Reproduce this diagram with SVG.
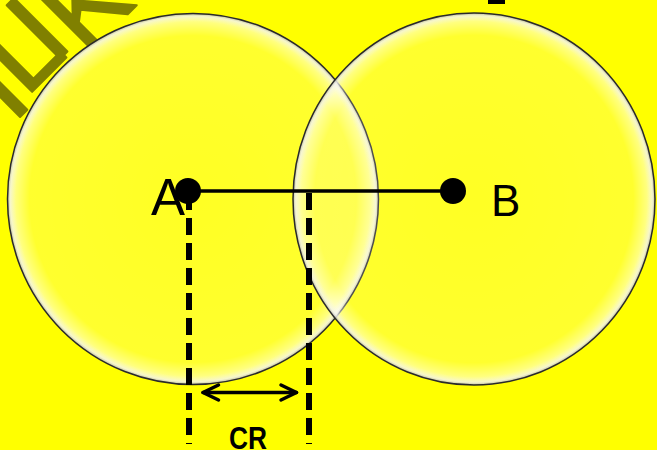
<svg xmlns="http://www.w3.org/2000/svg" width="657" height="450" viewBox="0 0 657 450">
<defs>
<radialGradient id="glow" cx="0.5" cy="0.5" r="0.5">
<stop offset="0" stop-color="#ffffff" stop-opacity="0.14"/>
<stop offset="0.88" stop-color="#ffffff" stop-opacity="0.18"/>
<stop offset="0.955" stop-color="#ffffff" stop-opacity="0.5"/>
<stop offset="0.985" stop-color="#f4f4f0" stop-opacity="0.85"/>
<stop offset="1" stop-color="#b8b8b0" stop-opacity="0.9"/>
</radialGradient>
</defs>
<style>
.wm{font-family:"Liberation Sans",Arial,sans-serif;font-size:110px;fill:#808000;stroke:#808000;stroke-width:2;stroke-linejoin:round;}
.lbl{font-family:"Liberation Sans",Arial,sans-serif;fill:#000;}
.cr{font-family:"Liberation Sans",Arial,sans-serif;font-weight:bold;font-size:31px;fill:#000;}
.ring{fill:url(#glow);stroke:#2a2a2a;stroke-width:1.5;}
.dash{stroke:#000;stroke-width:6;stroke-dasharray:17 8;fill:none;}
.arr{stroke:#000;stroke-width:3.5;fill:none;stroke-linecap:round;stroke-linejoin:round;}
</style>
<rect x="0" y="0" width="657" height="450" fill="#ffff00"/>
<g id="watermark">
<text class="wm" transform="translate(-22.4,159.4) rotate(-45)">H</text>
<text class="wm" transform="translate(25.7,98.3) rotate(-45)">L</text>
<text class="wm" transform="translate(53.1,65.9) rotate(-45)">I</text>
<text class="wm" transform="translate(85.7,56.3) rotate(-45)">K</text>
</g>
<rect x="488" y="0" width="17" height="4" fill="#000"/>
<g id="circleA">
<circle cx="193" cy="199" r="185.5" fill="#ffff00"/>
<circle class="ring" cx="193" cy="199" r="185.5"/>
</g>
<g id="circleB">
<ellipse class="ring" cx="474" cy="199" rx="181" ry="186"/>
</g>
<g id="connectors">
<line x1="189" y1="191" x2="453" y2="191" stroke="#000" stroke-width="3.5"/>
<line class="dash" x1="189" y1="193" x2="189" y2="444"/>
<line class="dash" x1="309" y1="193" x2="309" y2="444"/>
<line class="arr" x1="203" y1="392.5" x2="296.5" y2="392.5"/>
<polyline class="arr" points="218.5,385 203,392.5 218.5,400"/>
<polyline class="arr" points="281,385 296.5,392.5 281,400"/>
</g>
<g id="nodeA">
<circle cx="188" cy="191" r="13"/>
<text class="lbl" x="151" y="215" font-size="51">A</text>
</g>
<g id="nodeB">
<circle cx="453" cy="191" r="13"/>
<text class="lbl" x="491" y="216" font-size="44">B</text>
</g>
<g id="labelCR">
<text class="cr" x="229" y="449" textLength="38" lengthAdjust="spacingAndGlyphs">CR</text>
</g>
</svg>
